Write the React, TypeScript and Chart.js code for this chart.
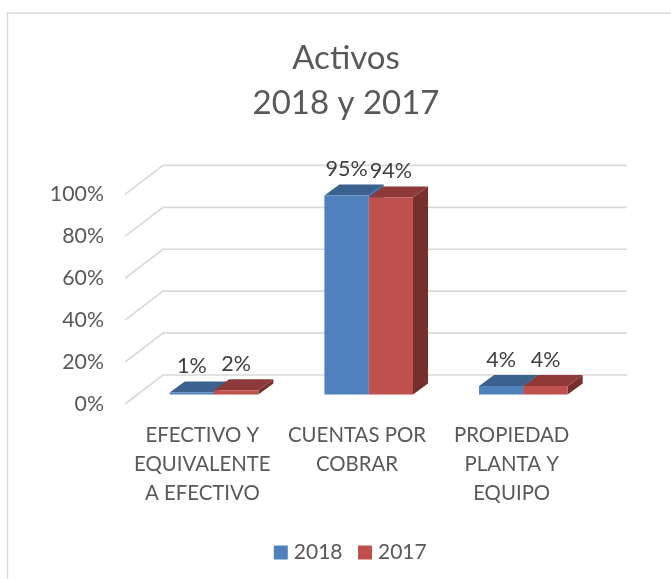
import React, { useEffect, useRef } from "react";
import { Chart, registerables } from "chart.js";

Chart.register(...registerables);

const categories = [
  ["EFECTIVO Y", "EQUIVALENTE", "A EFECTIVO"],
  ["CUENTAS POR", "COBRAR"],
  ["PROPIEDAD", "PLANTA Y", "EQUIPO"],
];
const seriesNames = ["2018", "2017"];
const values2018 = [1, 95, 4];
const values2017 = [2, 94, 4];
const yTicksStep = 20;
const titleLines = ["Activos", "2018 y 2017"];

const FONT = "Lato, 'Open Sans', sans-serif";
const TEXT = "#595959";
const GRID = "#d9d9d9";
const FRONT = ["#4F81BD", "#C0504D"];
const TOP = ["#3B618F", "#8E3A38"];
const SIDE = ["#3F6594", "#772F2D"];
const WALL_DX = 38;
const WALL_DY = 29;
const BAR_SHIFT_X = 11.7;
const BAR_SHIFT_Y = 9.5;
const DEPTH_X = 15;
const DEPTH_Y = 11;
const LABEL_GAP = 26;

const poly = (ctx: CanvasRenderingContext2D, pts: number[][], color: string) => {
  ctx.beginPath();
  pts.forEach((p, i) => (i ? ctx.lineTo(p[0], p[1]) : ctx.moveTo(p[0], p[1])));
  ctx.closePath();
  ctx.fillStyle = color;
  ctx.fill();
};

const frame3d = {
  id: "frame3d",
  afterLayout(chart: any) {
    // legend sits slightly right of the title centre in the reference
    chart.legend.left += 6.5;
    chart.legend.right += 6.5;
  },
  beforeDraw(chart: any) {
    const ctx = chart.ctx;
    ctx.save();
    ctx.fillStyle = "#ffffff";
    ctx.fillRect(0, 0, chart.width, chart.height);
    ctx.strokeStyle = GRID;
    ctx.lineWidth = 1.5;
    ctx.beginPath();
    ctx.moveTo(7.5, chart.height);
    ctx.lineTo(7.5, 13);
    ctx.lineTo(chart.width, 13);
    ctx.stroke();
    ctx.restore();
  },
  beforeDatasetsDraw(chart: any) {
    const ctx = chart.ctx;
    const { left, right } = chart.chartArea;
    const yScale = chart.scales.y;
    ctx.save();
    ctx.strokeStyle = GRID;
    ctx.lineWidth = 1.6;
    yScale.ticks.forEach((t: any) => {
      const y = yScale.getPixelForValue(t.value);
      ctx.beginPath();
      ctx.moveTo(left, y);
      ctx.lineTo(left + WALL_DX, y - WALL_DY);
      ctx.lineTo(right + WALL_DX, y - WALL_DY);
      ctx.stroke();
    });
    ctx.restore();

    ctx.save();
    ctx.translate(BAR_SHIFT_X, -BAR_SHIFT_Y);
    [0, 1].forEach((ds) => {
      chart.getDatasetMeta(ds).data.forEach((bar: any) => {
        const l = bar.x - bar.width / 2;
        const r = bar.x + bar.width / 2;
        const t = bar.y;
        const b = bar.base;
        poly(ctx, [[r, b], [r + DEPTH_X, b - DEPTH_Y], [r + DEPTH_X, t - DEPTH_Y], [r, t]], SIDE[ds]);
        poly(ctx, [[l, t], [l + DEPTH_X, t - DEPTH_Y], [r + DEPTH_X, t - DEPTH_Y], [r, t]], TOP[ds]);
      });
    });
  },
  afterDatasetsDraw(chart: any) {
    const ctx = chart.ctx;
    ctx.font = `21.5px ${FONT}`;
    ctx.fillStyle = "#404040";
    ctx.textAlign = "center";
    ctx.textBaseline = "middle";
    [0, 1].forEach((ds) => {
      const vals = chart.data.datasets[ds].data;
      chart.getDatasetMeta(ds).data.forEach((bar: any, i: number) => {
        ctx.fillText(`${vals[i]}%`, bar.x, bar.y - LABEL_GAP);
      });
    });
    ctx.restore();
  },
};

export default function App() {
  const ref = useRef<HTMLCanvasElement>(null);
  useEffect(() => {
    const chart = new Chart(ref.current!, {
      type: "bar",
      data: {
        labels: categories as any,
        datasets: [
          { label: seriesNames[0], data: values2018, backgroundColor: FRONT[0], borderWidth: 0 },
          { label: seriesNames[1], data: values2017, backgroundColor: FRONT[1], borderWidth: 0 },
        ],
      },
      plugins: [frame3d],
      options: {
        animation: false,
        responsive: false,
        layout: { padding: { top: 13, left: 21, right: 0, bottom: 6 } },
        datasets: { bar: { barPercentage: 1, categoryPercentage: 0.573, clip: false as any } },
        plugins: {
          tooltip: { enabled: false },
          title: {
            display: true,
            text: titleLines,
            color: TEXT,
            font: { family: FONT, size: 33, weight: "normal", lineHeight: 1.37 },
            padding: { top: 23, bottom: 68 },
          },
          legend: {
            position: "bottom",
            labels: {
              color: TEXT,
              font: { family: FONT, size: 21 },
              usePointStyle: true,
              pointStyle: "rect",
              boxWidth: 5,
              boxHeight: 14,
              padding: 20,
            },
          },
        },
        scales: {
          x: {
            grid: { display: false, drawTicks: false },
            border: { display: false },
            afterFit: (s: any) => {
              s.height = 118;
            },
            ticks: {
              color: TEXT,
              font: { family: FONT, size: 20.4, lineHeight: 1.42 },
              padding: 17,
              maxRotation: 0,
              autoSkip: false,
            },
          },
          y: {
            min: 0,
            max: 100,
            grid: { display: false, drawTicks: false },
            border: { display: false },
            afterFit: (s: any) => {
              s.width = 104;
            },
            ticks: {
              stepSize: yTicksStep,
              color: TEXT,
              font: { family: FONT, size: 21.3 },
              padding: 21,
              callback: (v: any) => `${v}%`,
            },
          },
          yR: {
            position: "right",
            min: 0,
            max: 100,
            grid: { display: false, drawTicks: false },
            border: { display: false },
            ticks: { display: false },
            afterFit: (s: any) => {
              s.width = 82;
            },
          },
        },
      } as any,
    });
    return () => chart.destroy();
  }, []);
  return (
    <canvas
      ref={ref}
      width={671}
      height={579}
      style={{ position: "absolute", left: 0, top: 0, display: "block" }}
    />
  );
}
